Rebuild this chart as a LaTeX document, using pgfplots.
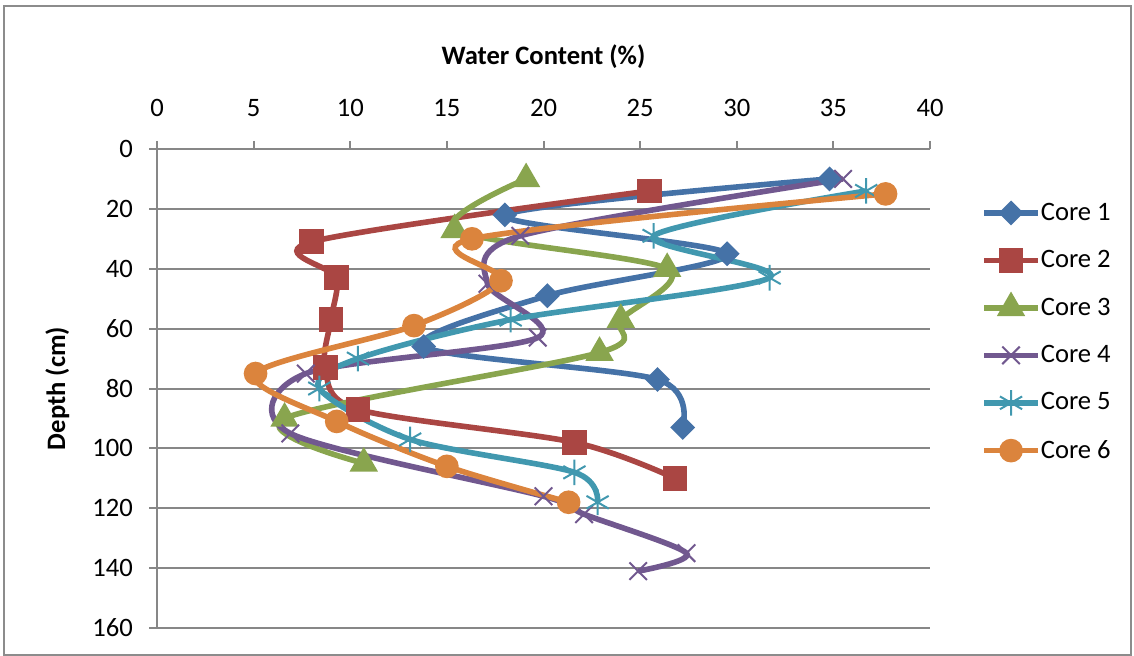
\documentclass[border=0pt]{standalone}
\usepackage{fontspec}
\setmainfont{Carlito}
\usepackage{pgfplots}
\pgfplotsset{compat=1.18}

\definecolor{coreA}{HTML}{4572A7}
\definecolor{coreB}{HTML}{AA4643}
\definecolor{coreC}{HTML}{89A54E}
\definecolor{coreD}{HTML}{71588F}
\definecolor{coreE}{HTML}{4198AF}
\definecolor{coreF}{HTML}{DB843D}
\definecolor{gridgray}{HTML}{878787}
\definecolor{framegray}{HTML}{8C8C8C}

\begin{document}
\begin{tikzpicture}
\useasboundingbox (0,0) rectangle (567pt,-328pt);
\draw[framegray, line width=0.8pt] (2pt,-3pt) rectangle (565.5pt,-327.5pt);
\begin{axis}[
  at={(78.5pt,-314pt)}, anchor=south west,
  scale only axis, width=386.5pt, height=239.5pt,
  xmin=0, xmax=40, ymin=0, ymax=160,
  y dir=reverse,
  axis x line*=top, axis y line*=left,
  axis line style={gridgray, line width=1pt},
  xtick={0,5,...,40}, ytick={0,20,...,160},
  tick align=outside, major tick length=4pt,
  tick style={gridgray, line width=1pt},
  ymajorgrids, grid style={gridgray, line width=1pt},
  /pgf/number format/assume math mode=true,
  tick label style={font=\fontsize{13.3}{16}\selectfont},
  xticklabel style={yshift=8.4pt},
  yticklabel style={xshift=-4.6pt},
  xlabel={Water Content (\%)},
  ylabel={Depth (cm)},
  label style={font=\fontsize{13.3}{16}\selectfont\bfseries},
  xlabel style={at={(axis description cs:0.5,1.192)}, anchor=center},
  ylabel style={at={(axis description cs:-0.129,0.5)}, anchor=center},
  clip=false,
  every axis plot/.append style={smooth, tension=0.5, line width=2.8pt},
  legend style={at={(axis description cs:1.058,0.618)}, anchor=west,
    draw=none, fill=none, row sep=9.6pt, column sep=-2pt,
    font=\fontsize{13.3}{16}\selectfont},
  legend cell align=left,
  legend image code/.code={%
    \draw[#1, mark repeat=2, mark phase=2]
      plot coordinates {(0pt,0pt) (13.5pt,0pt) (27pt,0pt)};},
]
% Core 1
\addplot[coreA, mark=square*, mark size=3.0pt, mark options={rotate=45, solid}]
  coordinates {(34.8,10) (18.0,22) (29.5,35) (20.2,49) (13.8,66) (25.9,77) (27.2,93)};
\addlegendentry{Core 1}
% Core 2
\addplot[coreB, mark=square*, mark size=4.8pt, mark options={solid}]
  coordinates {(25.5,14) (8.0,31) (9.3,43) (9.0,57) (8.7,73) (10.4,87) (21.6,98) (26.8,110)};
\addlegendentry{Core 2}
% Core 3
\addplot[coreC, mark=triangle*, mark size=5.4pt, mark options={solid}]
  coordinates {(19.1,10) (15.4,27) (26.4,40) (24.0,57) (22.9,68) (6.6,90) (10.7,105)};
\addlegendentry{Core 3}
% Core 4
\addplot[coreD, mark=x, mark size=6.2pt, mark options={solid, line width=1pt}]
  coordinates {(35.5,10) (18.8,29) (17.1,45) (19.7,63) (7.7,75) (6.9,95) (20.0,116) (22.1,122) (27.4,135) (24.9,141)};
\addlegendentry{Core 4}
% Core 5
\addplot[coreE, mark=asterisk, mark size=6.4pt, mark options={solid, line width=1pt}]
  coordinates {(36.7,14) (25.7,29) (31.7,43) (18.3,57) (10.4,70) (8.4,80) (13.1,97) (21.6,108) (22.8,118)};
\addlegendentry{Core 5}
% Core 6
\addplot[coreF, mark=*, mark size=4.5pt, mark options={solid}]
  coordinates {(37.7,15) (16.3,30) (17.8,44) (13.3,59) (5.1,75) (9.3,91) (15.0,106) (21.3,118)};
\addlegendentry{Core 6}
\end{axis}
\end{tikzpicture}
\end{document}
